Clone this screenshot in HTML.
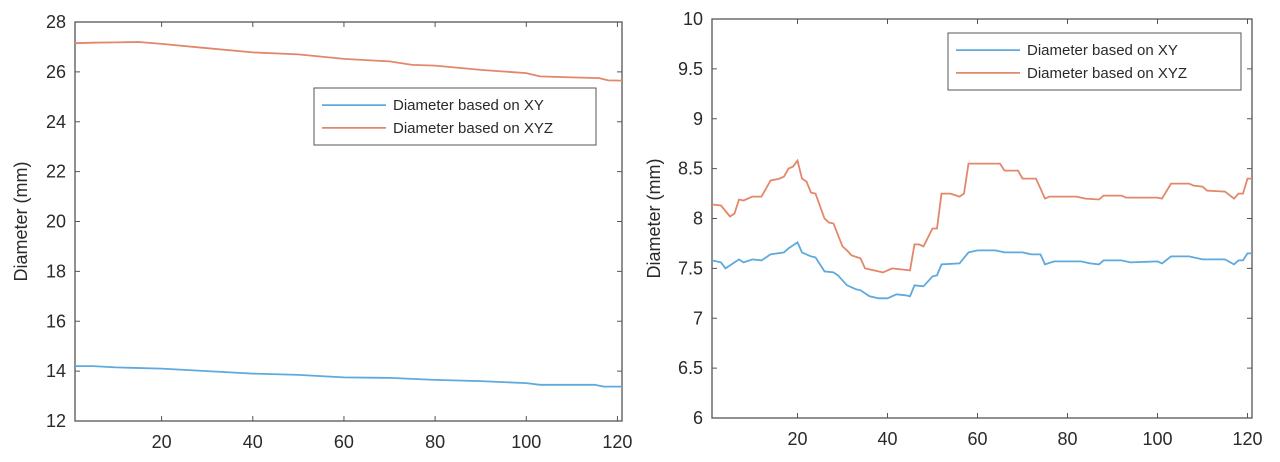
<!DOCTYPE html>
<html><head><meta charset="utf-8"><style>
html,body{margin:0;padding:0;background:#fff;width:1280px;height:462px;overflow:hidden}
svg text{font-family:"Liberation Sans",Arial,sans-serif;fill:#2a2a2a}
</style></head><body>
<svg id="s" width="1280" height="462" xmlns="http://www.w3.org/2000/svg"></svg>
<script>
const S=document.getElementById('s');let h='';
function plot(o){
 const {L,R,T,B,ymin,ymax,yt,yfmt,series,leg,ylx}=o;
 const X=v=>L+(v-1)/120*(R-L), Y=v=>B-(v-ymin)/(ymax-ymin)*(B-T);
 h+=`<rect x="${L}" y="${T}" width="${R-L}" height="${B-T}" fill="#fff" stroke="#555" stroke-width="1.3"/>`;
 for(let t=20;t<=120;t+=20){const x=X(t);h+=`<line x1="${x}" y1="${B}" x2="${x}" y2="${B-5}" stroke="#555"/><line x1="${x}" y1="${T}" x2="${x}" y2="${T+5}" stroke="#555"/><text x="${x}" y="${B+27}" font-size="18" text-anchor="middle">${t}</text>`;}
 yt.forEach(t=>{const y=Y(t);h+=`<line x1="${L}" y1="${y}" x2="${L+5}" y2="${y}" stroke="#555"/><line x1="${R}" y1="${y}" x2="${R-5}" y2="${y}" stroke="#555"/><text x="${L-9}" y="${y+6}" font-size="18" text-anchor="end">${yfmt(t)}</text>`;});
 const cy=(T+B)/2;
 h+=`<text x="${ylx}" y="${cy}" font-size="18" text-anchor="middle" transform="rotate(-90 ${ylx} ${cy})">Diameter (mm)</text>`;
 series.forEach(s=>{h+=`<polyline fill="none" stroke="${s.c}" stroke-width="1.8" points="${s.d.map(p=>X(p[0]).toFixed(1)+','+Y(p[1]).toFixed(1)).join(' ')}"/>`;});
 const [lx,ly,lw,lh]=leg;
 h+=`<rect x="${lx}" y="${ly}" width="${lw}" height="${lh}" fill="#fff" stroke="#555" stroke-width="1"/>`;
 h+=`<line x1="${lx+8}" y1="${ly+lh*0.3}" x2="${lx+72}" y2="${ly+lh*0.3}" stroke="${series[0].c}" stroke-width="1.8"/><text x="${lx+79}" y="${ly+lh*0.3+5}" font-size="15">Diameter based on XY</text>`;
 h+=`<line x1="${lx+8}" y1="${ly+lh*0.7}" x2="${lx+72}" y2="${ly+lh*0.7}" stroke="${series[1].c}" stroke-width="1.8"/><text x="${lx+79}" y="${ly+lh*0.7+5}" font-size="15">Diameter based on XYZ</text>`;
}
const BL='#5ea9dd',OR='#e2876a';
plot({L:75,R:622,T:22,B:421,ymin:12,ymax:28,yt:[12,14,16,18,20,22,24,26,28],yfmt:t=>t,ylx:27,leg:[314,88,282,57],
 series:[{c:BL,d:[[1,14.2],[5,14.2],[10,14.15],[20,14.1],[30,14.0],[40,13.9],[50,13.85],[60,13.75],[70,13.73],[80,13.65],[90,13.6],[100,13.52],[103,13.45],[115,13.45],[117,13.38],[121,13.38]]},
 {c:OR,d:[[1,27.15],[5,27.17],[10,27.18],[15,27.2],[20,27.12],[30,26.95],[40,26.78],[50,26.7],[60,26.52],[70,26.42],[75,26.28],[80,26.25],[90,26.08],[100,25.95],[103,25.82],[110,25.78],[116,25.75],[118,25.66],[121,25.65]]}]});
const xyz=[[1,8.14],[3,8.13],[5,8.02],[6,8.05],[7,8.19],[8,8.18],[10,8.22],[12,8.22],[14,8.38],[16,8.40],[17,8.42],[18,8.5],[19,8.52],[20,8.58],[21,8.4],[22,8.37],[23,8.26],[24,8.25],[26,8.0],[27,7.96],[28,7.95],[30,7.72],[31,7.68],[32,7.63],[34,7.6],[35,7.5],[37,7.48],[39,7.46],[41,7.5],[43,7.49],[45,7.48],[46,7.74],[47,7.74],[48,7.72],[50,7.9],[51,7.9],[52,8.25],[54,8.25],[56,8.22],[57,8.25],[58,8.55],[65,8.55],[66,8.48],[69,8.48],[70,8.4],[73,8.4],[75,8.2],[76,8.22],[82,8.22],[84,8.2],[87,8.19],[88,8.23],[92,8.23],[93,8.21],[100,8.21],[101,8.2],[103,8.35],[107,8.35],[108,8.33],[110,8.32],[111,8.28],[115,8.27],[117,8.2],[118,8.25],[119,8.25],[120,8.4],[121,8.4]];
const xy=[[1,7.58],[3,7.56],[4,7.5],[6,7.56],[7,7.59],[8,7.56],[10,7.59],[12,7.58],[14,7.64],[17,7.66],[18,7.7],[19,7.73],[20,7.76],[21,7.66],[23,7.62],[24,7.61],[26,7.47],[28,7.46],[29,7.43],[31,7.33],[33,7.29],[34,7.28],[36,7.22],[38,7.2],[40,7.2],[42,7.24],[44,7.23],[45,7.22],[46,7.33],[48,7.32],[50,7.42],[51,7.43],[52,7.54],[56,7.55],[58,7.66],[60,7.68],[64,7.68],[66,7.66],[70,7.66],[72,7.64],[74,7.64],[75,7.54],[77,7.57],[83,7.57],[85,7.55],[87,7.54],[88,7.58],[92,7.58],[94,7.56],[100,7.57],[101,7.55],[103,7.62],[107,7.62],[110,7.59],[115,7.59],[117,7.54],[118,7.58],[119,7.58],[120,7.65],[121,7.65]];
plot({L:712,R:1252,T:19,B:418,ymin:6,ymax:10,yt:[6,6.5,7,7.5,8,8.5,9,9.5,10],yfmt:t=>t,ylx:660,leg:[948,33,293,57],
 series:[{c:BL,d:xy},{c:OR,d:xyz}]});
S.innerHTML=h;
</script>
</body></html>
